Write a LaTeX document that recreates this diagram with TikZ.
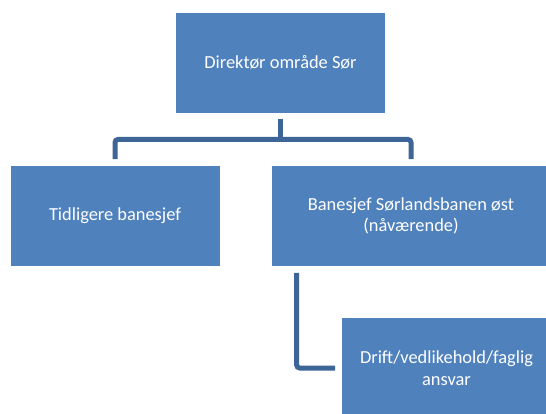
\documentclass[tikz,border=0pt]{standalone}
\usepackage{fontspec}
\setmainfont{Carlito}
\begin{document}
\begin{tikzpicture}
		[x=1pt,y=-1pt,
		box/.style= {font=\fontsize{18.4}{21.5}\selectfont,text=white,fill=boxblue,draw=white,line width=0.6pt,
			minimum width=210pt,minimum height=101pt,inner sep=0pt,align=center},
		conn/.style= {line width=5pt,draw=connblue,rounded corners=3pt}]
		\definecolor{boxblue}{HTML}{4F81BD}
		\definecolor{connblue}{HTML}{3E6598}
		\useasboundingbox (0,0) rectangle (546,414);
		\clip (0,0) rectangle (546,414);

		\node[box] (dir) at (280.5,62.5) {Direktør område Sør};
		\node[box] (tid) at (115,216) {Tidligere banesjef};
		\node[box,minimum width=280pt] (ban) at (411,216) {Banesjef Sørlandsbanen øst\\(nåværende)};
		\node[box] (drift) at (446.5,368) {Drift/vedlikehold/faglig\\ansvar};

		\coordinate (bar) at (0,139.5);

		% connectors
		\draw[conn] ([yshift=-6pt]dir.south) -- (dir.south |- bar);
		\draw[conn] ([yshift=6pt]tid.north) -- (tid.north |- bar) -- (ban.north |- bar) -- ([yshift=6pt]ban.north);
		\draw[conn] ([xshift=26pt,yshift=-6pt]ban.south west) |- ([xshift=-6pt]drift.west);
	\end{tikzpicture}
\end{document}
